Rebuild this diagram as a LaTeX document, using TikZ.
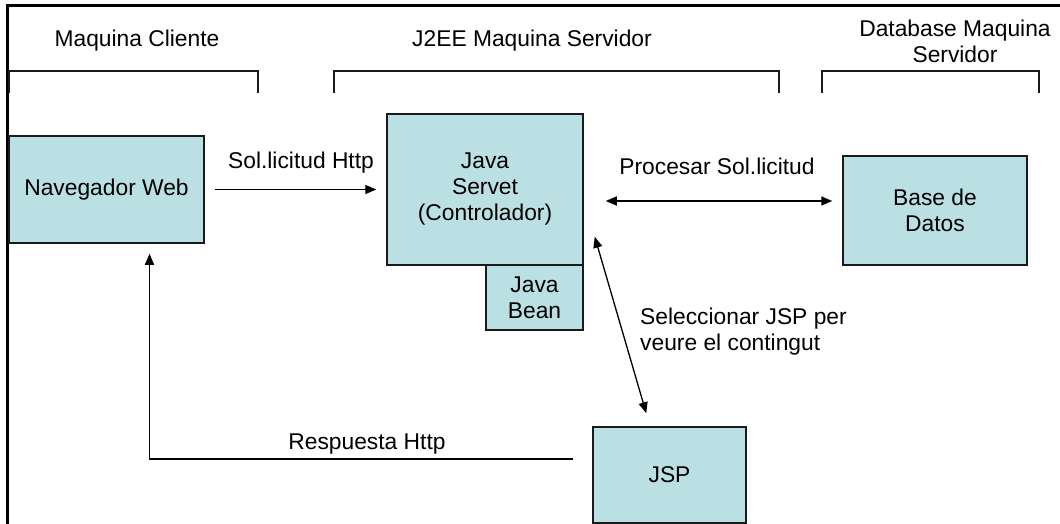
\documentclass[tikz,border=0pt]{standalone}
\usepackage{fontspec}
\setmainfont{Liberation Sans}
\usetikzlibrary{arrows.meta}
\definecolor{boxfill}{HTML}{BBE0E3}
\definecolor{edge}{HTML}{1A1A1A}
\begin{document}
\begin{tikzpicture}[x=1pt,y=-1pt,
  box/.style={draw=edge,line width=1.5pt,fill=boxfill,inner sep=0pt,align=center,
    font=\fontsize{22.8}{26}\selectfont},
  lab/.style={inner sep=0pt,font=\fontsize{22.8}{26}\selectfont},
  arr/.style={draw=black,line width=1.3pt,-{Triangle[length=11pt,width=9pt]}},
  darr/.style={draw=black,line width=1.3pt,{Triangle[length=11pt,width=9pt]}-{Triangle[length=11pt,width=9pt]}},
  bracket/.style={draw=edge,line width=1.3pt},
  frame/.style={draw=black,line width=2.2pt}]
\useasboundingbox (0,0) rectangle (1060,524);
% frame
\draw[frame] (1060,5.5) -- (7.5,5.5) -- (7.5,524);
% brackets
\draw[bracket] (9,93) -- (9,71) -- (258,71) -- (258,93);
\draw[bracket] (334,93) -- (334,71) -- (779,71) -- (779,93);
\draw[bracket] (822,93) -- (822,71) -- (1039,71) -- (1039,93);
% headings
\node[lab,anchor=base] (lcli) at (137,47) {Maquina Cliente};
\node[lab,anchor=base] (lj2ee) at (532,47) {J2EE Maquina Servidor};
\node[lab,anchor=base,align=center] (ldb) at (955,63) {Database Maquina\\Servidor};
% boxes
\node[box,minimum width=195pt,minimum height=107pt] (nav) at (106.5,189.5) {Navegador Web};
\node[box,minimum width=196pt,minimum height=151pt] (servet) at (485,189.5) {Java\\Servet\\(Controlador)};
\node[box,minimum width=97pt,minimum height=65pt] (bean) at (534.5,297.5) {Java\\Bean};
\node[box,minimum width=184pt,minimum height=109pt] (db) at (935,210.5) {Base de\\Datos};
\node[box,minimum width=153pt,minimum height=96pt] (jsp) at (669.5,475) {JSP};
% connectors
\draw[arr] ([shift={(10,0)}]nav.east) -- ([shift={(-10,0)}]servet.west);
\draw[darr] ([shift={(22,11.5)}]servet.east) -- ([shift={(-10,-9.5)}]db.west);
\draw[darr] ([shift={(11,-29)}]servet.south east) -- ([shift={(54,-13)}]jsp.north west);
\draw[arr] ([shift={(-19,-16)}]jsp.west) -| ([shift={(43,10)}]nav.south);
% connector labels
\node[lab,anchor=base] (lsol) at (301,168) {Sol.licitud Http};
\node[lab,anchor=base] (lproc) at (717,175) {Procesar Sol.licitud};
\node[lab,anchor=base west,align=left] (lsel) at (640,350) {Seleccionar JSP per\\veure el contingut};
\node[lab,anchor=base] (lresp) at (367,449) {Respuesta Http};
\end{tikzpicture}
\end{document}
